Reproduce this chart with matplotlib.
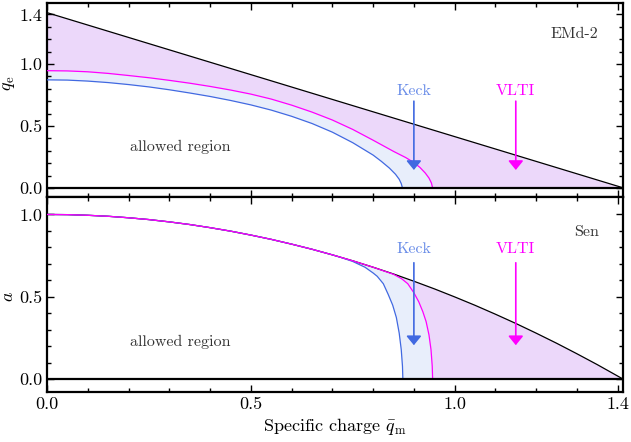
import numpy as np
import matplotlib
matplotlib.use('Agg')
import matplotlib.pyplot as plt

plt.rcParams['font.family'] = 'serif'
plt.rcParams['font.serif'] = ['cmr10', 'DejaVu Serif']
plt.rcParams['mathtext.fontset'] = 'cm'
plt.rcParams['axes.formatter.use_mathtext'] = True

# ---- data ----
# top panel (EMd-2): q_e vs q_m
top_black_q = [0.0, 1.4142]
top_black_v = [1.4142, 0.0]

top_mag_q = [0.0, 0.05, 0.1, 0.15, 0.2, 0.25, 0.3, 0.35, 0.4, 0.45, 0.5, 0.55, 0.6,
             0.65, 0.7, 0.75, 0.8, 0.85, 0.88, 0.9, 0.915, 0.928, 0.937, 0.943, 0.946]
top_mag_v = [0.946, 0.944, 0.937, 0.924, 0.907, 0.889, 0.868, 0.845, 0.819, 0.79, 0.757,
             0.717, 0.668, 0.612, 0.548, 0.472, 0.385, 0.295, 0.245, 0.205, 0.165, 0.12,
             0.08, 0.04, 0.0]

top_blue_q = [0.0, 0.05, 0.1, 0.15, 0.2, 0.25, 0.3, 0.35, 0.4, 0.45, 0.5, 0.55, 0.6,
              0.65, 0.7, 0.75, 0.8, 0.82, 0.84, 0.855, 0.864, 0.869, 0.872]
top_blue_v = [0.872, 0.870, 0.862, 0.85, 0.834, 0.815, 0.792, 0.766, 0.738, 0.706, 0.67,
              0.628, 0.578, 0.52, 0.45, 0.365, 0.265, 0.215, 0.16, 0.11, 0.07, 0.035, 0.0]

# bottom panel (Sen): a vs q_m
bot_black_q = [0.0, 0.05, 0.1, 0.15, 0.2, 0.25, 0.3, 0.35, 0.4, 0.45, 0.5, 0.55, 0.6,
               0.65, 0.7, 0.75, 0.8, 0.85, 0.9, 0.95, 1.0, 1.05, 1.1, 1.15, 1.2, 1.25,
               1.3, 1.35, 1.4142]
bot_black_a = [1.0, 0.999, 0.995, 0.989, 0.98, 0.969, 0.955, 0.939, 0.92, 0.899, 0.875,
               0.849, 0.82, 0.789, 0.755, 0.719, 0.68, 0.639, 0.595, 0.549, 0.5, 0.449,
               0.395, 0.339, 0.28, 0.219, 0.155, 0.089, 0.0]

bot_mag_q = [0.0, 0.05, 0.1, 0.15, 0.2, 0.25, 0.3, 0.35, 0.4, 0.45, 0.5, 0.55, 0.6,
             0.65, 0.7, 0.75, 0.8, 0.85, 0.87, 0.885, 0.9, 0.912, 0.922, 0.93, 0.937,
             0.942, 0.945, 0.946]
bot_mag_a = [1.0, 0.999, 0.995, 0.989, 0.98, 0.969, 0.955, 0.939, 0.92, 0.899, 0.875,
             0.849, 0.82, 0.789, 0.755, 0.719, 0.68, 0.637, 0.61, 0.58, 0.525, 0.47,
             0.41, 0.35, 0.27, 0.18, 0.08, 0.0]

bot_blue_q = [0.0, 0.05, 0.1, 0.15, 0.2, 0.25, 0.3, 0.35, 0.4, 0.45, 0.5, 0.55, 0.6,
              0.65, 0.7, 0.72, 0.75, 0.78, 0.8, 0.81, 0.825, 0.837, 0.848, 0.857,
              0.864, 0.869, 0.872, 0.873]
bot_blue_a = [1.0, 0.999, 0.995, 0.989, 0.98, 0.969, 0.955, 0.939, 0.92, 0.899, 0.875,
              0.849, 0.82, 0.789, 0.755, 0.74, 0.715, 0.68, 0.645, 0.625, 0.58, 0.515,
              0.45, 0.375, 0.28, 0.18, 0.08, 0.0]

keck_q = 0.9
vlti_q = 1.15

BLUE = '#4169e1'
KECK_TXT = '#6a8de8'
MAG = '#ff00ff'
PURPLE = '#ecd8fa'
LBLUE = '#e8eefb'

fig = plt.figure(figsize=(6.31, 4.42), dpi=100)
ax1 = fig.add_axes([0.0745, 0.5532, 0.9136, 0.4389])
ax2 = fig.add_axes([0.0745, 0.1131, 0.9136, 0.4401])


def panel(ax, bq, bv, mq, mv, lq, lv):
    # light blue between blue and magenta, purple between magenta and black
    ax.fill(np.concatenate([lq, mq[::-1]]), np.concatenate([lv, mv[::-1]]),
            color=LBLUE, lw=0, zorder=1)
    ax.fill(np.concatenate([mq, bq[::-1]]), np.concatenate([mv, bv[::-1]]),
            color=PURPLE, lw=0, zorder=1)
    ax.plot(bq, bv, color='black', lw=0.9, zorder=3)
    ax.plot(lq, lv, color=BLUE, lw=0.9, zorder=4)
    ax.plot(mq, mv, color=MAG, lw=0.9, zorder=5)
    ax.axhline(0, color='black', lw=1.6, zorder=6)
    ax.set_xlim(0, np.sqrt(2))
    ax.set_xticks([0.0, 0.5, 1.0, 1.4])
    ax.set_xticks(np.arange(0.1, 1.41, 0.1), minor=True)
    ax.tick_params(which='both', direction='in', top=True, right=True,
                   labelsize=13, width=1.0)
    ax.tick_params(which='major', length=5)
    ax.tick_params(which='minor', length=3)
    for s in ax.spines.values():
        s.set_linewidth(1.6)


panel(ax1, np.array(top_black_q), np.array(top_black_v),
      np.array(top_mag_q), np.array(top_mag_v),
      np.array(top_blue_q), np.array(top_blue_v))
panel(ax2, np.array(bot_black_q), np.array(bot_black_a),
      np.array(bot_mag_q), np.array(bot_mag_a),
      np.array(bot_blue_q), np.array(bot_blue_a))

ax1.set_ylim(-0.077, 1.488)
ax1.set_yticks([0.0, 0.5, 1.0, 1.4])
ax1.set_yticklabels(['0.0', '0.5', '1.0', '1.4'])
ax1.set_yticks(np.arange(0.1, 1.45, 0.1), minor=True)
ax1.tick_params(axis='x', labelbottom=False)
ax1.set_ylabel(r'$\bar{q}_\mathrm{e}$', fontsize=13)
ax1.yaxis.set_label_coords(-0.051, 0.59)

ax2.set_ylim(-0.077, 1.103)
ax2.set_yticks([0.0, 0.5, 1.0])
ax2.set_yticklabels(['0.0', '0.5', '1.0'])
ax2.set_yticks(np.arange(0.1, 1.05, 0.1), minor=True)
ax2.set_xticklabels(['0.0', '0.5', '1.0', '1.4'])
ax2.set_ylabel(r'$a$', fontsize=13)
ax2.yaxis.set_label_coords(-0.053, 0.49)
ax2.set_xlabel(r'Specific charge $\bar{q}_\mathrm{m}$', fontsize=13, labelpad=3)

arr_kw = dict(arrowstyle='-|>,head_length=0.55,head_width=0.45', lw=1.2,
              mutation_scale=10, shrinkA=0, shrinkB=0)

# top panel annotations
ax1.text(0.326, 0.33, 'allowed region', fontsize=11.5, color='#333333',
         ha='center', va='center', zorder=7)
ax1.text(1.294, 1.24, 'EMd-2', fontsize=11.5, color='#333333',
         ha='center', va='center')
ax1.annotate('', xy=(keck_q, 0.145), xytext=(keck_q, 0.70),
             arrowprops=dict(color=BLUE, **arr_kw), zorder=8)
ax1.text(keck_q, 0.78, 'Keck', fontsize=11.5, color=KECK_TXT, ha='center', va='center')
ax1.annotate('', xy=(vlti_q, 0.145), xytext=(vlti_q, 0.70),
             arrowprops=dict(color=MAG, **arr_kw), zorder=8)
ax1.text(vlti_q, 0.78, 'VLTI', fontsize=11.5, color=MAG, ha='center', va='center')

# bottom panel annotations
ax2.text(0.326, 0.225, 'allowed region', fontsize=11.5, color='#333333',
         ha='center', va='center', zorder=7)
ax2.text(1.324, 0.89, 'Sen', fontsize=11.5, color='#333333',
         ha='center', va='center')
ax2.annotate('', xy=(keck_q, 0.207), xytext=(keck_q, 0.707),
             arrowprops=dict(color=BLUE, **arr_kw), zorder=8)
ax2.text(keck_q, 0.787, 'Keck', fontsize=11.5, color=KECK_TXT, ha='center', va='center')
ax2.annotate('', xy=(vlti_q, 0.207), xytext=(vlti_q, 0.707),
             arrowprops=dict(color=MAG, **arr_kw), zorder=8)
ax2.text(vlti_q, 0.787, 'VLTI', fontsize=11.5, color=MAG, ha='center', va='center')

fig.savefig('out.png', dpi=100)
